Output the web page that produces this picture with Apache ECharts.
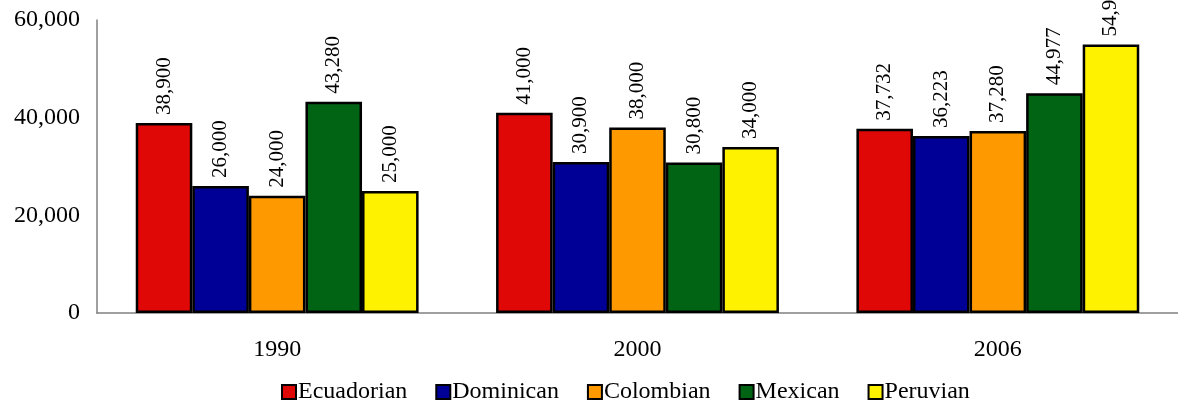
<!DOCTYPE html>
<html>
<head>
<meta charset="utf-8">
<script src="https://cdn.jsdelivr.net/npm/echarts@6/dist/echarts.min.js"></script>
<style>
html,body{margin:0;padding:0;background:#fff;}
#chart{width:1178px;height:405px;}
</style>
</head>
<body>
<div id="chart"></div>
<script>
const categories = ['1990', '2000', '2006'];
const seriesNames = ['Ecuadorian', 'Dominican', 'Colombian', 'Mexican', 'Peruvian'];
const ecuadorian = [38900, 41000, 37732];
const dominican = [26000, 30900, 36223];
const colombian = [24000, 38000, 37280];
const mexican = [43280, 30800, 44977];
const peruvian = [25000, 34000, 54977];
const yTicks = [0, 20000, 40000, 60000];

const values = [ecuadorian, dominican, colombian, mexican, peruvian];
const colors = ['#E00806', '#000096', '#FF9900', '#006414', '#FFF200'];
const FONT = 'Liberation Serif';
const fmt = v => v.toLocaleString('en-US');

const chart = echarts.init(document.getElementById('chart'));
chart.setOption({
  animation: false,
  textStyle: { fontFamily: FONT, color: '#000' },
  grid: { left: 97, right: 0, top: 20, bottom: 92 },
  legend: {
    left: 276, top: 375,
    icon: 'rect', itemWidth: 14, itemHeight: 14, itemGap: 28,
    textStyle: { fontFamily: FONT, fontSize: 24, color: '#000', padding: [0, 0, 0, -3] },
    data: seriesNames
  },
  xAxis: {
    type: 'category', data: categories,
    axisLine: { lineStyle: { color: '#808080', width: 1.5 } },
    axisTick: { show: false },
    axisLabel: { fontFamily: FONT, fontSize: 24, color: '#000', margin: 25 }
  },
  yAxis: {
    type: 'value', min: yTicks[0], max: yTicks[yTicks.length - 1], interval: 20000,
    axisLine: { show: true, lineStyle: { color: '#808080', width: 1.5 } },
    axisTick: { show: false },
    splitLine: { show: false },
    axisLabel: { fontFamily: FONT, fontSize: 24, color: '#000', margin: 17, formatter: fmt }
  },
  series: seriesNames.map((name, i) => ({
    name, type: 'bar', data: values[i],
    barGap: '0%', barCategoryGap: '21.5%',
    itemStyle: { color: colors[i], borderColor: '#000', borderWidth: 2.5 },
    label: {
      show: true, position: 'top', rotate: 90, align: 'left', verticalAlign: 'middle',
      distance: 8, fontFamily: FONT, fontSize: 21, color: '#000', formatter: p => fmt(p.value)
    }
  }))
});
</script>
</body>
</html>
